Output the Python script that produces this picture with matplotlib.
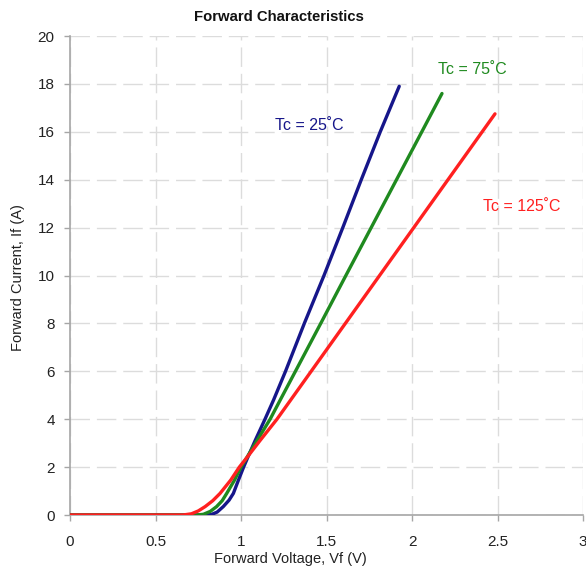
import matplotlib
matplotlib.use("Agg")
import matplotlib.pyplot as plt

plt.rcParams['font.family'] = ['Liberation Sans', 'DejaVu Sans']

# Forward characteristics (Vf in V, If in A)
vf_25 = [0.0, 0.5, 0.80, 0.826, 0.86, 0.896, 0.93, 0.955, 0.985, 1.015, 1.042, 1.082, 1.14, 1.19,
         1.26, 1.37, 1.485, 1.595, 1.703, 1.814, 1.925]
if_25 = [0.0, 0.0, 0.0, 0.02, 0.12, 0.35, 0.62, 0.9, 1.46, 2.0, 2.45, 3.1, 4.0, 4.8,
         6.0, 8.0, 10.0, 12.0, 14.0, 16.0, 17.9]

vf_75 = [0.0, 0.5, 0.74, 0.78, 0.82, 0.857, 0.89, 0.916, 0.962, 1.0, 1.038, 1.093, 1.17, 1.229,
         1.318, 1.466, 1.613, 1.761, 1.909, 2.057, 2.175]
if_75 = [0.0, 0.0, 0.0, 0.03, 0.15, 0.35, 0.6, 0.9, 1.46, 2.0, 2.45, 3.1, 4.0, 4.8,
         6.0, 8.0, 10.0, 12.0, 14.0, 16.0, 17.6]

vf_125 = [0.0, 0.5, 0.66, 0.71, 0.75, 0.79, 0.835, 0.877, 0.94, 0.99, 1.04, 1.11, 1.21, 1.29,
          1.41, 1.61, 1.81, 2.01, 2.21, 2.41, 2.485]
if_125 = [0.0, 0.0, 0.0, 0.05, 0.17, 0.35, 0.6, 0.9, 1.46, 2.0, 2.45, 3.1, 4.0, 4.8,
          6.0, 8.0, 10.0, 12.0, 14.0, 16.0, 16.75]

x_ticks = [0, 0.5, 1, 1.5, 2, 2.5, 3]
x_labels = ['0', '0.5', '1', '1.5', '2', '2.5', '3']
y_ticks = [0, 2, 4, 6, 8, 10, 12, 14, 16, 18, 20]

blue = '#16168a'
green = '#1f8a1f'
red = '#ff2020'

fig = plt.figure(figsize=(5.86, 5.69), dpi=100)
ax = fig.add_axes([0.1195, 0.0949, 0.8755, 0.8418])

ax.plot(vf_25, if_25, color=blue, lw=2.4, solid_capstyle='round', solid_joinstyle='round', zorder=3)
ax.plot(vf_75, if_75, color=green, lw=2.4, solid_capstyle='round', solid_joinstyle='round', zorder=3)
ax.plot(vf_125, if_125, color=red, lw=2.4, solid_capstyle='round', solid_joinstyle='round', zorder=4)

ax.set_xlim(0, 3)
ax.set_ylim(0, 20)
ax.set_xticks(x_ticks)
ax.set_xticklabels(x_labels)
ax.set_yticks(y_ticks)

ax.grid(True, color='#dcdcdc', lw=1, linestyle=(0, (14, 5)), zorder=0)
ax.set_axisbelow(True)

for s in ['top', 'right']:
    ax.spines[s].set_visible(False)
for s in ['left', 'bottom']:
    ax.spines[s].set_color('#a6a6a6')
    ax.spines[s].set_linewidth(1.2)
ax.tick_params(colors='#a6a6a6', length=4, width=1, labelcolor='#222222', labelsize=11)
ax.tick_params(axis='y', pad=7)
ax.tick_params(axis='x', pad=10.5)

fig.text(0.476, 0.970, 'Forward Characteristics', fontsize=10.75, fontweight='bold',
         color='#111111', ha='center', va='center')
ax.set_xlabel('Forward Voltage, Vf (V)', fontsize=10.5, color='#222222')
ax.xaxis.set_label_coords(0.429, -0.078)
fig.text(18 / 586, 0.513, 'Forward Current, If (A)', fontsize=10.5, color='#222222',
         rotation=90, ha='center', va='center')

ax.text(1.40, 16.25, 'Tc = 25˚C', color=blue, fontsize=11.5, ha='center', va='center')
ax.text(2.35, 18.6, 'Tc = 75˚C', color=green, fontsize=11.5, ha='center', va='center')
ax.text(2.64, 12.9, 'Tc = 125˚C', color=red, fontsize=11.5, ha='center', va='center')

fig.savefig('out.png', dpi=100, facecolor='white')
